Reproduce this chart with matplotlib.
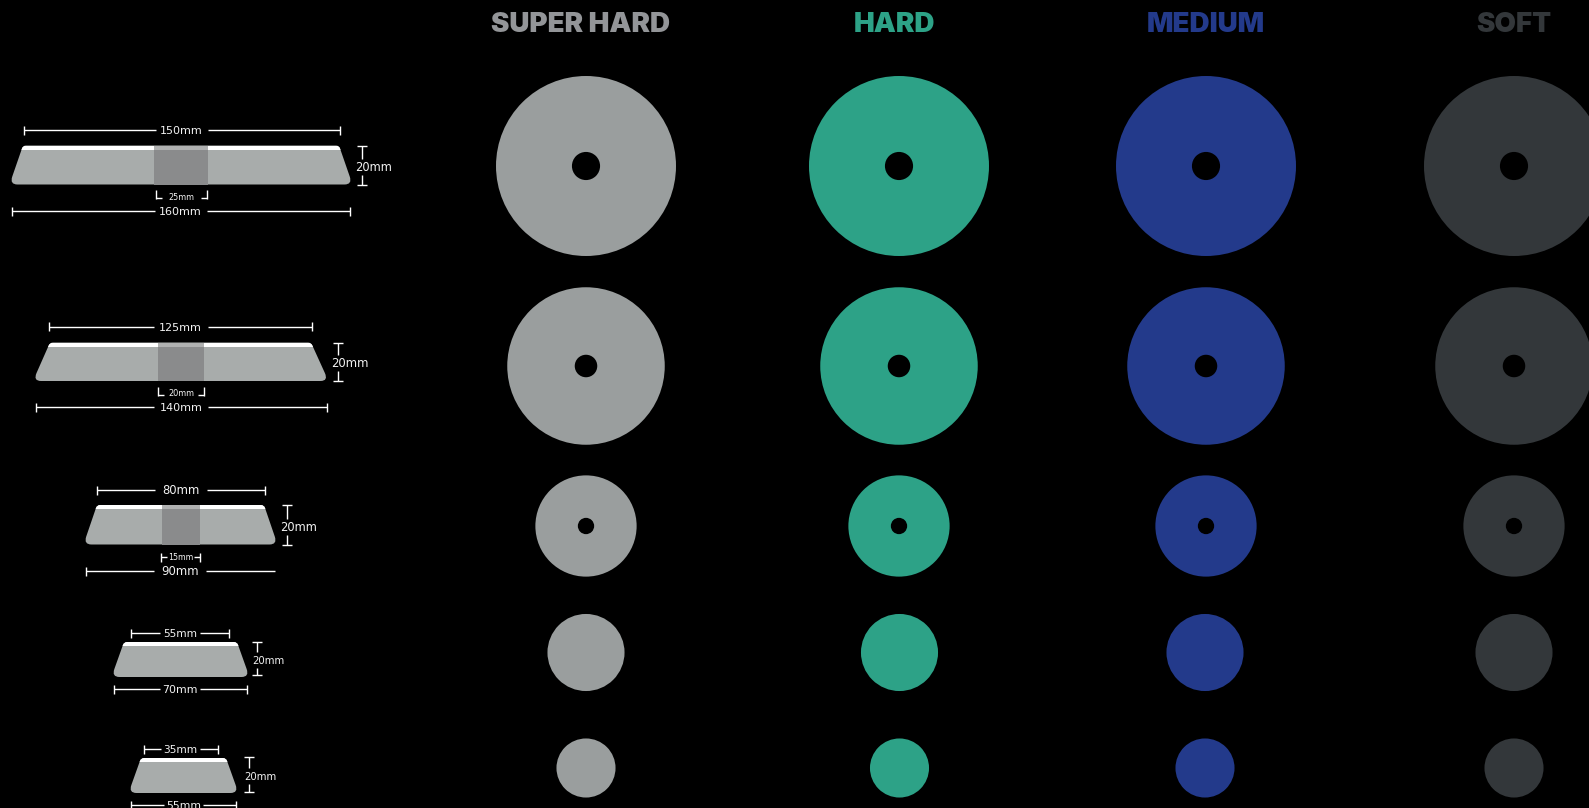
import matplotlib
matplotlib.use("Agg")
import matplotlib.pyplot as plt
from matplotlib.patches import Circle, PathPatch, Rectangle
from matplotlib.path import Path

# Data
grades = ["SUPER HARD", "HARD", "MEDIUM", "SOFT"]
top_labels = ["150mm", "125mm", "80mm", "55mm", "35mm"]
bottom_labels = ["160mm", "140mm", "90mm", "70mm", "55mm"]
bore_labels = ["25mm", "20mm", "15mm", None, None]
height_label = "20mm"
# diameters as drawn, in mm
disc_diam = [160, 140, 90, 68.5, 52.5]
hole_diam = [25, 20, 14.5, 0, 0]

# Styles and layout, in reference pixels
grade_colors = ["#939598", "#2da287", "#233a8b", "#33373a"]
disc_colors = ["#9a9e9e", "#2da287", "#233a8b", "#33373a"]
col_x = [586, 899, 1206, 1514]
col_x_small = [586, 899.5, 1205, 1514]
title_x = [581, 894.5, 1206, 1514]
row_y = [166, 366, 526, 652.5, 768]
px_per_mm = 1.125

top_edge = [(23, 339), (50, 311), (97, 264), (124, 237), (141, 226)]
bot_edge = [(12, 350), (35.5, 326), (86, 275), (114, 247), (131, 236)]
block_y = [(145.5, 184.5), (342.5, 381), (505, 544.5), (642, 677), (758, 793)]
bore_x = [(154, 208), (158, 204), (162, 200), None, None]
top_line_y = [130, 326.5, 490, 633, 749]
top_line_x = [(23.5, 339.5), (49, 312), (96.5, 264.5), (131, 229), (143.5, 217.5)]
bot_line_y = [211, 407, 571, 689, 805]
bot_line_x = [(11.5, 349.5), (35.5, 326.5), (85.5, 275), (113.5, 246.5), (131, 236)]
gap_half = [26, 27, 26, 20, 19.5]
top_size = [8.0, 8.0, 8.4, 7.7, 7.7]
bot_size = [8.0, 8.0, 8.4, 7.9, 7.8]
bar_size = [8.3, 8.4, 8.3, 7.3, 7.3]
bore_line_y = [198, 395, 557]
bore_line_x = [(155.5, 206.5), (158, 204), (161, 200)]
bore_text_y = [197, 393, 557]
bore_size = [5.9, 5.9, 5.7]
bore_gap = [19.5, 17, 13.5]
bar_x = [362, 337.5, 287, 257, 249]
bar_y = [(145.5, 184.5), (342.5, 381), (505, 544.5), (642, 675), (757, 791.5)]
bar_text_x = [373.5, 350, 299, 268, 260]
bar_text_y = [167, 363, 527, 660, 776]

plt.rcParams["font.family"] = ["DejaVu Sans"]

fig = plt.figure(figsize=(15.89, 8.08), dpi=100, facecolor="black")
ax = fig.add_axes([0, 0, 1, 1])
ax.set_xlim(0, 1589)
ax.set_ylim(808, 0)
ax.set_axis_off()


def rounded_trapezoid(top, bot, ys, r=8, e=2.5, rt=3):
    y0, y1 = ys
    lx, rx = bot[0] - e, bot[1] + e
    sl = (lx - top[0]) / (y1 - y0)
    sr = (rx - top[1]) / (y1 - y0)
    verts = [
        (top[0] + rt, y0), (top[1] - rt, y0), (top[1], y0), (top[1] + sr * rt, y0 + rt),
        (rx - sr * r, y1 - r), (rx, y1), (rx - r, y1),
        (lx + r, y1), (lx, y1), (lx - sl * r, y1 - r),
        (top[0] + sl * rt, y0 + rt), (top[0], y0), (top[0] + rt, y0), (top[0] + rt, y0),
    ]
    codes = [
        Path.MOVETO, Path.LINETO, Path.CURVE3, Path.CURVE3,
        Path.LINETO, Path.CURVE3, Path.CURVE3,
        Path.LINETO, Path.CURVE3, Path.CURVE3,
        Path.LINETO, Path.CURVE3, Path.CURVE3, Path.CLOSEPOLY,
    ]
    return Path(verts, codes)


def seg(x0, y0, x1, y1):
    ax.plot([x0, x1], [y0, y1], color="white", lw=1.0, solid_capstyle="butt")


def dim_line(x0, x1, y, gap, left=True, right=True):
    c = (x0 + x1) / 2
    seg(x0, y, c - gap, y)
    seg(c + gap, y, x1, y)
    if left:
        seg(x0, y - 4.5, x0, y + 4.5)
    if right:
        seg(x1, y - 4.5, x1, y + 4.5)


def label(x, y, s, size):
    # digits are about 0.73 em tall, so shift the baseline by half of that
    ax.text(x, y + size * 0.73 * 100 / 72 / 2, s, color="#f2f2f2", fontsize=size,
            ha="center", va="baseline", zorder=5)


# headings
for x, name, col in zip(title_x, grades, grade_colors):
    ax.text(x, 24.5, name, color=col, fontsize=20, family="Inter", fontweight="black",
            ha="center", va="center")

# discs
for j, col in enumerate(disc_colors):
    for i, (y, d, h) in enumerate(zip(row_y, disc_diam, hole_diam)):
        x = col_x[j] if i < 3 else col_x_small[j]
        ax.add_patch(Circle((x, y), d * px_per_mm / 2, facecolor=col, edgecolor="none"))
        if h:
            ax.add_patch(Circle((x, y), h * px_per_mm / 2, facecolor="black", edgecolor="none"))

# cross sections with their dimensions
for i in range(5):
    path = rounded_trapezoid(top_edge[i], bot_edge[i], block_y[i])
    body = PathPatch(path, facecolor="#a8acab", edgecolor="none")
    ax.add_patch(body)
    y0, y1 = block_y[i]
    strip = Rectangle((0, y0), 400, 4, facecolor="white", edgecolor="none", zorder=2)
    ax.add_patch(strip)
    strip.set_clip_path(body)
    if bore_x[i]:
        a, b = bore_x[i]
        ax.add_patch(Rectangle((a, y0), b - a, y1 - y0, facecolor="#8a8b8c", edgecolor="none", zorder=3))
        ax.add_patch(Rectangle((a, y0), b - a, 4, facecolor="#b0b1b1", edgecolor="none", zorder=3))

    x0, x1 = top_line_x[i]
    dim_line(x0, x1, top_line_y[i], gap_half[i])
    label((x0 + x1) / 2, top_line_y[i], top_labels[i], top_size[i])

    x0, x1 = bot_line_x[i]
    dim_line(x0, x1, bot_line_y[i], gap_half[i], right=i != 2)
    label((x0 + x1) / 2, bot_line_y[i], bottom_labels[i], bot_size[i])

    if bore_labels[i]:
        x0, x1 = bore_line_x[i]
        y = bore_line_y[i]
        c = (x0 + x1) / 2
        seg(x0, y, c - bore_gap[i], y)
        seg(c + bore_gap[i], y, x1, y)
        for x in (x0, x1):
            if i == 2:
                seg(x, y - 4.5, x, y + 4.5)
            else:
                seg(x, y - 8, x, y + 0.5)
        label(c, bore_text_y[i], bore_labels[i], bore_size[i])

    x = bar_x[i]
    a, b = bar_y[i]
    seg(x, a, x, bar_text_y[i] - 8)
    seg(x, bar_text_y[i] + 8, x, b)
    for y in (a, b):
        seg(x - 5, y, x + 5, y)
    label(bar_text_x[i], bar_text_y[i], height_label, bar_size[i])

fig.savefig("out.png", dpi=100, facecolor="black")
